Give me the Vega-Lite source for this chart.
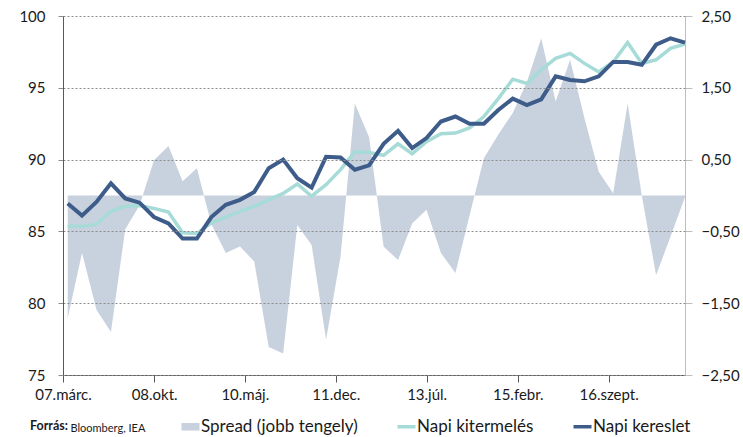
{
  "$schema": "https://vega.github.io/schema/vega-lite/v6.json",
  "width": 622,
  "height": 359,
  "autosize": {"type": "none"},
  "padding": {"left": 63, "top": 16, "right": 58, "bottom": 62},
  "background": "white",
  "config": {
    "font": "Lato",
    "view": {"stroke": null},
    "axis": {"labelFont": "Lato", "titleFont": "Lato"},
    "legend": {"labelFont": "Lato", "titleFont": "Lato"}
  },
  "data": {
    "values": [
      {"date": "2007-03-31", "prod": 85.35, "dem": 86.95, "spread": -1.71},
      {"date": "2007-06-30", "prod": 85.35, "dem": 86.1, "spread": -0.8},
      {"date": "2007-09-30", "prod": 85.5, "dem": 87.05, "spread": -1.59},
      {"date": "2007-12-31", "prod": 86.4, "dem": 88.35, "spread": -1.9},
      {"date": "2008-03-31", "prod": 86.75, "dem": 87.3, "spread": -0.47},
      {"date": "2008-06-30", "prod": 86.8, "dem": 87.0, "spread": -0.14},
      {"date": "2008-09-30", "prod": 86.6, "dem": 86.0, "spread": 0.49},
      {"date": "2008-12-31", "prod": 86.35, "dem": 85.55, "spread": 0.69},
      {"date": "2009-03-31", "prod": 84.9, "dem": 84.5, "spread": 0.2},
      {"date": "2009-06-30", "prod": 84.85, "dem": 84.5, "spread": 0.38},
      {"date": "2009-09-30", "prod": 85.6, "dem": 86.0, "spread": -0.4},
      {"date": "2009-12-31", "prod": 86.0, "dem": 86.85, "spread": -0.8},
      {"date": "2010-03-31", "prod": 86.4, "dem": 87.2, "spread": -0.71},
      {"date": "2010-06-30", "prod": 86.75, "dem": 87.75, "spread": -0.92},
      {"date": "2010-09-30", "prod": 87.2, "dem": 89.4, "spread": -2.11},
      {"date": "2010-12-31", "prod": 87.65, "dem": 90.0, "spread": -2.2},
      {"date": "2011-03-31", "prod": 88.3, "dem": 88.7, "spread": -0.41},
      {"date": "2011-06-30", "prod": 87.45, "dem": 88.05, "spread": -0.69},
      {"date": "2011-09-30", "prod": 88.25, "dem": 90.2, "spread": -2.01},
      {"date": "2011-12-31", "prod": 89.3, "dem": 90.15, "spread": -0.85},
      {"date": "2012-03-31", "prod": 90.55, "dem": 89.3, "spread": 1.28},
      {"date": "2012-06-30", "prod": 90.5, "dem": 89.6, "spread": 0.81},
      {"date": "2012-09-30", "prod": 90.3, "dem": 91.1, "spread": -0.71},
      {"date": "2012-12-31", "prod": 91.1, "dem": 92.0, "spread": -0.9},
      {"date": "2013-03-31", "prod": 90.4, "dem": 90.8, "spread": -0.39},
      {"date": "2013-06-30", "prod": 91.25, "dem": 91.5, "spread": -0.2},
      {"date": "2013-09-30", "prod": 91.8, "dem": 92.65, "spread": -0.8},
      {"date": "2013-12-31", "prod": 91.85, "dem": 93.0, "spread": -1.08},
      {"date": "2014-03-31", "prod": 92.2, "dem": 92.5, "spread": -0.28},
      {"date": "2014-06-30", "prod": 93.0, "dem": 92.5, "spread": 0.52},
      {"date": "2014-09-30", "prod": 94.25, "dem": 93.45, "spread": 0.85},
      {"date": "2014-12-31", "prod": 95.6, "dem": 94.25, "spread": 1.15},
      {"date": "2015-03-31", "prod": 95.3, "dem": 93.8, "spread": 1.58},
      {"date": "2015-06-30", "prod": 96.25, "dem": 94.2, "spread": 2.19},
      {"date": "2015-09-30", "prod": 97.05, "dem": 95.8, "spread": 1.31},
      {"date": "2015-12-31", "prod": 97.4, "dem": 95.55, "spread": 1.89},
      {"date": "2016-03-31", "prod": 96.7, "dem": 95.45, "spread": 1.08},
      {"date": "2016-06-30", "prod": 96.1, "dem": 95.8, "spread": 0.33},
      {"date": "2016-09-30", "prod": 96.8, "dem": 96.8, "spread": 0.03},
      {"date": "2016-12-31", "prod": 98.15, "dem": 96.8, "spread": 1.28},
      {"date": "2017-03-31", "prod": 96.7, "dem": 96.6, "spread": 0.0},
      {"date": "2017-06-30", "prod": 96.95, "dem": 98.0, "spread": -1.11},
      {"date": "2017-09-30", "prod": 97.75, "dem": 98.45, "spread": -0.57},
      {"date": "2017-12-31", "prod": 98.05, "dem": 98.15, "spread": -0.02}
    ]
  },
  "encoding": {
    "x": {
      "field": "date",
      "type": "temporal",
      "scale": {
        "domain": [
          {"year": 2007, "month": 3, "date": 1, "utc": true},
          {"year": 2017, "month": 12, "date": 31, "utc": true}
        ]
      },
      "axis": {
        "values": [
          {"year": 2007, "month": 3, "date": 1, "utc": true},
          {"year": 2008, "month": 10, "date": 1, "utc": true},
          {"year": 2010, "month": 5, "date": 1, "utc": true},
          {"year": 2011, "month": 12, "date": 1, "utc": true},
          {"year": 2013, "month": 7, "date": 1, "utc": true},
          {"year": 2015, "month": 2, "date": 1, "utc": true},
          {"year": 2016, "month": 9, "date": 1, "utc": true}
        ],
        "labelExpr": "utcFormat(datum.value, '%y') + '.' + ['jan.','febr.','márc.','ápr.','máj.','jún.','júl.','aug.','szept.','okt.','nov.','dec.'][utcmonth(datum.value)]",
        "grid": false,
        "domainColor": "#595959",
        "tickColor": "#595959",
        "tickSize": 7,
        "labelFontSize": 15,
        "labelColor": "#1a1a1a",
        "labelPadding": 5,
        "labelFlush": false,
        "labelOverlap": false,
        "title": "Bloomberg, IEA",
        "titleFontSize": 11,
        "titleFontWeight": "normal",
        "titleColor": "#1a1a1a",
        "titleAlign": "left",
        "titleBaseline": "middle",
        "titleAnchor": "start",
        "titleX": 7,
        "titleY": 53
      }
    }
  },
  "layer": [
    {
      "mark": {"type": "area", "opacity": 1},
      "encoding": {
        "y": {
          "field": "spread",
          "type": "quantitative",
          "scale": {"domain": [-2.5, 2.5], "nice": false, "zero": false},
          "axis": {
            "orient": "right",
            "values": [-2.5, -1.5, -0.5, 0.5, 1.5, 2.5],
            "labelExpr": "replace(format(datum.value, '.2f'), '.', ',')",
            "grid": false,
            "domainColor": "#bfbfbf",
            "tickColor": "#bfbfbf",
            "tickSize": 7,
            "labelFontSize": 15,
            "labelColor": "#1a1a1a",
            "labelPadding": 9,
            "title": null
          }
        },
        "color": {
          "datum": "Spread (jobb tengely)",
          "type": "nominal",
          "scale": {
            "domain": ["Spread (jobb tengely)", "Napi kitermelés", "Napi kereslet"],
            "range": ["#c8d2df", "#a6dbd8", "#3e5c8a"]
          },
          "legend": {
            "orient": "none",
            "legendX": -33,
            "legendY": 402,
            "direction": "horizontal",
            "title": "Forrás:",
            "titleOrient": "left",
            "titleFontSize": 12.5,
            "titleFontWeight": "bold",
            "titleColor": "#1a1a1a",
            "titlePadding": 114,
            "titleBaseline": "middle",
            "labelFontSize": 17,
            "labelColor": "#1a1a1a",
            "labelOffset": 2,
            "columnPadding": 32,
            "symbolSize": 324,
            "symbolStrokeWidth": 3.5,
            "encoding": {
              "symbols": {
                "shape": {"value": {"expr": "datum.value === 'Spread (jobb tengely)' ? 'M-1,-0.42H1V0.42H-1Z' : 'stroke'"}},
                "strokeWidth": {"value": {"expr": "datum.value === 'Spread (jobb tengely)' ? 0 : 3.5"}},
                "opacity": {"value": 1}
              }
            }
          }
        }
      }
    },
    {
      "encoding": {
        "y": {
          "type": "quantitative",
          "scale": {"domain": [75, 100], "nice": false, "zero": false},
          "axis": {
            "orient": "left",
            "values": [75, 80, 85, 90, 95, 100],
            "grid": true,
            "gridColor": "#8c8c8c",
            "gridDash": [2, 2],
            "gridWidth": 1,
            "domainColor": "#595959",
            "tickColor": "#8c8c8c",
            "tickSize": 5,
            "labelFontSize": 15,
            "labelColor": "#1a1a1a",
            "labelPadding": 13,
            "title": null,
            "zindex": 1
          }
        }
      },
      "layer": [
        {
          "mark": {"type": "line", "strokeWidth": 3.5},
          "encoding": {
            "y": {"field": "prod", "type": "quantitative"},
            "color": {"datum": "Napi kitermelés", "type": "nominal"}
          }
        },
        {
          "mark": {"type": "line", "strokeWidth": 4},
          "encoding": {
            "y": {"field": "dem", "type": "quantitative"},
            "color": {"datum": "Napi kereslet", "type": "nominal"}
          }
        }
      ]
    }
  ],
  "resolve": {"scale": {"y": "independent"}}
}
